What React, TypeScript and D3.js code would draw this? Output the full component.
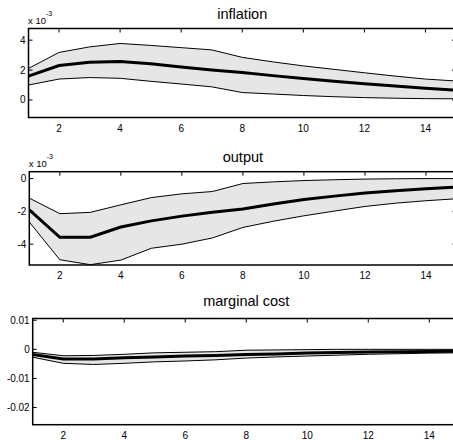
import React from "react";
import * as d3 from "d3";

const periods = [1, 2, 3, 4, 5, 6, 7, 8, 9, 10, 11, 12, 13, 14, 15];
const xTicks = [2, 4, 6, 8, 10, 12, 14];

const inflationMean = [1.6, 2.3, 2.52, 2.58, 2.42, 2.2, 2.0, 1.84, 1.63, 1.44, 1.25, 1.08, 0.93, 0.78, 0.65];
const inflationUpper = [2.11, 3.18, 3.55, 3.78, 3.65, 3.5, 3.35, 2.85, 2.55, 2.28, 2.05, 1.82, 1.6, 1.4, 1.27];
const inflationLower = [1.0, 1.4, 1.5, 1.45, 1.25, 1.07, 0.88, 0.5, 0.4, 0.3, 0.22, 0.16, 0.12, 0.09, 0.08];
const inflationTicks = [0, 2, 4];

const outputMean = [-1.9, -3.58, -3.58, -2.95, -2.58, -2.29, -2.05, -1.85, -1.55, -1.27, -1.07, -0.88, -0.74, -0.62, -0.52];
const outputUpper = [-1.19, -2.14, -2.06, -1.6, -1.16, -0.93, -0.79, -0.3, -0.2, -0.12, -0.07, -0.03, -0.01, 0.0, 0.0];
const outputLower = [-2.65, -4.95, -5.25, -4.97, -4.25, -4.0, -3.62, -2.98, -2.6, -2.27, -1.98, -1.7, -1.5, -1.35, -1.23];
const outputTicks = [-4, -2, 0];

const mcMean = [-0.0018, -0.0033, -0.0033, -0.0029, -0.0026, -0.0023, -0.0021, -0.0018, -0.0016, -0.0013, -0.0011, -0.0009, -0.0008, -0.0007, -0.0006];
const mcUpper = [-0.001, -0.0022, -0.0021, -0.0017, -0.0012, -0.001, -0.0008, -0.0003, -0.0002, -0.0001, 0, 0, 0, 0, 0];
const mcLower = [-0.0027, -0.0048, -0.0052, -0.0048, -0.0043, -0.004, -0.0036, -0.003, -0.0026, -0.0023, -0.002, -0.0017, -0.0015, -0.0013, -0.0012];
const mcTicks = [-0.02, -0.01, 0, 0.01];

const titles = ["inflation", "output", "marginal cost"];

type Panel = {
  title: string;
  mean: number[];
  upper: number[];
  lower: number[];
  ticks: number[];
  fmt: (v: number) => string;
  yDomain: [number, number];
  left: number;
  right: number;
  top: number;
  bottom: number;
  titleY: number;
  exponent: boolean;
};

const panels: Panel[] = [
  {
    title: titles[0], mean: inflationMean, upper: inflationUpper, lower: inflationLower,
    ticks: inflationTicks, fmt: (v) => String(v), yDomain: [-1.17, 4.78],
    left: 28.5, right: 456, top: 28.5, bottom: 117.5, titleY: 19, exponent: true,
  },
  {
    title: titles[1], mean: outputMean, upper: outputUpper, lower: outputLower,
    ticks: outputTicks, fmt: (v) => String(v), yDomain: [-5.27, 0.42],
    left: 29.3, right: 456.5, top: 171.7, bottom: 265, titleY: 161.7, exponent: true,
  },
  {
    title: titles[2], mean: mcMean, upper: mcUpper, lower: mcLower,
    ticks: mcTicks, fmt: (v) => String(v), yDomain: [-0.0259, 0.0106],
    left: 32.7, right: 459.8, top: 318.5, bottom: 424.7, titleY: 305.7, exponent: false,
  },
];

const FONT = "'Liberation Sans', Arial, sans-serif";

function PanelView({ p }: { p: Panel }) {
  const x = d3.scaleLinear().domain([1, 15]).range([p.left, p.right]);
  const y = d3.scaleLinear().domain(p.yDomain).range([p.bottom, p.top]);
  const area = d3
    .area<number>()
    .x((_, i) => x(periods[i]))
    .y0((_, i) => y(p.lower[i]))
    .y1((_, i) => y(p.upper[i]));
  const line = (arr: number[]) =>
    d3
      .line<number>()
      .x((_, i) => x(periods[i]))
      .y((d) => y(d))(arr) || "";
  const clipId = "clip-" + p.title.replace(/\s/g, "");
  return (
    <g>
      <defs>
        <clipPath id={clipId}>
          <rect x={p.left} y={p.top} width={p.right - p.left} height={p.bottom - p.top} />
        </clipPath>
      </defs>
      <text
        x={(p.left + p.right) / 2}
        y={p.titleY}
        textAnchor="middle"
        fontFamily={FONT}
        fontSize={14.5}
        fill="#000"
      >
        {p.title}
      </text>
      {p.exponent && (
        <text x={p.left - 0.5} y={p.top - 5} fontFamily={FONT} fontSize={9.5} fill="#000">
          x 10
          <tspan dy={-8} fontSize={7}>
            -3
          </tspan>
        </text>
      )}
      <g clipPath={`url(#${clipId})`}>
        <path d={area(periods) || ""} fill="#e6e6e6" stroke="none" />
        <path d={line(p.upper)} fill="none" stroke="#000" strokeWidth={1} />
        <path d={line(p.lower)} fill="none" stroke="#000" strokeWidth={1} />
        <path d={line(p.mean)} fill="none" stroke="#000" strokeWidth={3} />
      </g>
      <rect
        x={p.left}
        y={p.top}
        width={p.right - p.left}
        height={p.bottom - p.top}
        fill="none"
        stroke="#000"
        strokeWidth={1.5}
      />
      {xTicks.map((t) => (
        <g key={"x" + t}>
          <line x1={x(t)} x2={x(t)} y1={p.top} y2={p.top + 4} stroke="#000" strokeWidth={1} />
          <text
            x={x(t)}
            y={p.bottom + 14}
            textAnchor="middle"
            fontFamily={FONT}
            fontSize={10}
            fill="#000"
          >
            {t}
          </text>
        </g>
      ))}
      {p.ticks.map((t) => (
        <g key={"y" + t}>
          <line x1={p.left} x2={p.left + 4} y1={y(t)} y2={y(t)} stroke="#000" strokeWidth={1} />
          <line x1={p.right} x2={p.right - 4} y1={y(t)} y2={y(t)} stroke="#000" strokeWidth={1} />
          <text
            x={p.left - 3}
            y={y(t)}
            dy="0.35em"
            textAnchor="end"
            fontFamily={FONT}
            fontSize={10}
            fill="#000"
          >
            {p.fmt(t)}
          </text>
        </g>
      ))}
    </g>
  );
}

export default function App() {
  return (
    <svg
      width={453}
      height={440}
      style={{ position: "absolute", left: 0, top: 0, background: "#fff" }}
    >
      <rect x={0} y={0} width={453} height={440} fill="#fff" />
      {panels.map((p) => (
        <PanelView key={p.title} p={p} />
      ))}
    </svg>
  );
}
